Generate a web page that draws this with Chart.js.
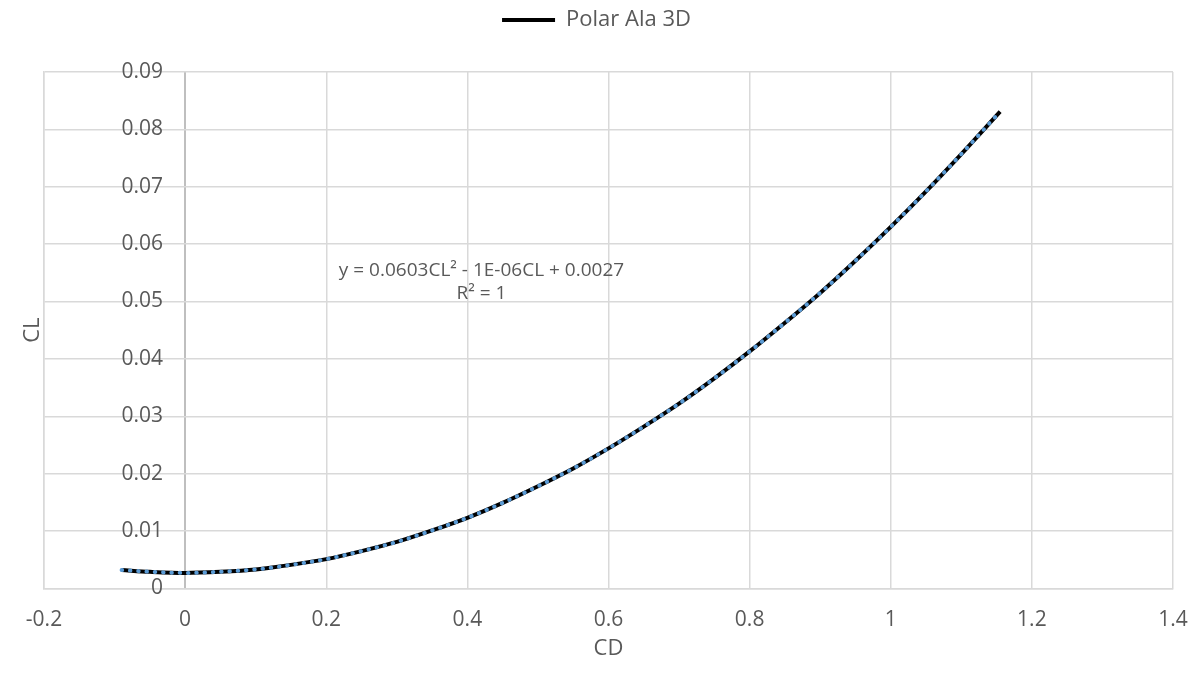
<!DOCTYPE html>
<html>
<head>
<meta charset="utf-8">
<script src="https://cdn.jsdelivr.net/npm/chart.js@4/dist/chart.umd.min.js"></script>
<style>
  html, body { margin: 0; padding: 0; background: #fff; }
  #wrap { width: 1197px; height: 685px; position: relative; }
</style>
</head>
<body>
<div id="wrap"><canvas id="chart"></canvas></div>
<script>
// valores (CD en x, CL en y)
const cdValues = [-0.09, -0.05, 0, 0.05, 0.1, 0.15, 0.2, 0.25, 0.3, 0.35, 0.4, 0.45, 0.5, 0.55,
  0.6, 0.65, 0.7, 0.75, 0.8, 0.85, 0.9, 0.95, 1.0, 1.05, 1.1, 1.155];
const clValues = [0.0032, 0.0029, 0.0027, 0.0029, 0.0033, 0.0041, 0.0051, 0.0065, 0.0081, 0.0101,
  0.0123, 0.0149, 0.0178, 0.0209, 0.0244, 0.0282, 0.0322, 0.0366, 0.0413, 0.0463, 0.0515,
  0.0571, 0.0630, 0.0692, 0.0757, 0.0831];
const seriesName = 'Polar Ala 3D';
const xTitle = 'CD';
const yTitle = 'CL';
const eqLines = ['y = 0.0603CL² - 1E-06CL + 0.0027', 'R² = 1'];
const eqAt = { x: 0.42, y: 0.0554 };

const FONT = '"Open Sans", Lato, sans-serif';
const TXT = '#595959';

const points = cdValues.map((x, i) => ({ x: x, y: clValues[i] }));

// deja hueco entre la leyenda y el area del grafico
const legendGap = {
  id: 'legendGap',
  beforeInit(chart) {
    const fit = chart.legend.fit;
    chart.legend.fit = function () {
      fit.bind(chart.legend)();
      this.height += 31;
    };
  }
};

// etiquetas del eje Y dibujadas sobre x = 0 (como en Excel) + ecuacion
const yLabelsAtZero = {
  id: 'yLabelsAtZero',
  afterDraw(chart) {
    const { ctx, scales } = chart;
    const x0 = scales.x.getPixelForValue(0);
    ctx.save();
    ctx.font = '21px ' + FONT;
    ctx.fillStyle = TXT;
    ctx.textAlign = 'right';
    ctx.textBaseline = 'middle';
    scales.y.ticks.forEach(t => {
      const lbl = String(Number(t.value.toFixed(2)));
      ctx.fillText(lbl, x0 - 22, scales.y.getPixelForValue(t.value));
    });
    // ecuacion de la linea de tendencia
    const ex = scales.x.getPixelForValue(eqAt.x);
    const ey = scales.y.getPixelForValue(eqAt.y);
    ctx.font = '19px ' + FONT;
    ctx.textAlign = 'center';
    ctx.fillText(eqLines[0], ex, ey);
    ctx.fillText(eqLines[1], ex, ey + 23);
    ctx.restore();
  }
};

new Chart(document.getElementById('chart'), {
  type: 'scatter',
  data: {
    datasets: [
      {
        label: seriesName,
        data: points,
        showLine: true,
        borderColor: '#000000',
        backgroundColor: '#000000',
        borderWidth: 4,
        pointRadius: 0,
        cubicInterpolationMode: 'monotone',
        order: 2
      },
      {
        label: 'trend',
        data: points,
        showLine: true,
        borderColor: '#5B9BD5',
        borderWidth: 4,
        borderDash: [0.5, 7.8],
        borderCapStyle: 'round',
        pointRadius: 0,
        cubicInterpolationMode: 'monotone',
        order: 1
      }
    ]
  },
  options: {
    responsive: true,
    maintainAspectRatio: false,
    animation: false,
    layout: { padding: { left: 20, right: 24, top: 0, bottom: 19 } },
    plugins: {
      tooltip: { enabled: false },
      legend: {
        position: 'top',
        labels: {
          boxWidth: 53,
          boxHeight: 4,
          color: TXT,
          font: { family: FONT, size: 22 },
          padding: 9,
          generateLabels: chart => [{
            text: seriesName, fillStyle: '#000000', strokeStyle: '#000000',
            lineWidth: 0, datasetIndex: 0, fontColor: TXT
          }]
        }
      }
    },
    scales: {
      x: {
        type: 'linear',
        min: -0.2,
        max: 1.4,
        ticks: {
          stepSize: 0.2, color: TXT, font: { family: FONT, size: 21 }, padding: 2,
          callback: v => String(Number(v.toFixed(1)))
        },
        grid: {
          color: c => (Math.abs(c.tick.value) < 1e-9 ? '#BFBFBF' : '#D9D9D9'),
          lineWidth: c => (Math.abs(c.tick.value) < 1e-9 ? 2 : 1.5),
          drawTicks: true,
          tickLength: 17,
          tickColor: 'rgba(0,0,0,0)'
        },
        border: { color: '#D9D9D9', width: 1.5 },
        title: { display: true, text: xTitle, color: TXT, font: { family: FONT, size: 22 }, padding: { top: 1 } }
      },
      y: {
        min: 0,
        max: 0.09,
        ticks: { stepSize: 0.01, display: false },
        grid: { color: '#D9D9D9', lineWidth: 1.5, drawTicks: false },
        border: { color: '#D9D9D9', width: 1.5 },
        title: {
          display: true, text: yTitle, color: TXT,
          font: { family: FONT, size: 22, lineHeight: 1 }, padding: { top: 2, bottom: 0 }
        }
      }
    }
  },
  plugins: [legendGap, yLabelsAtZero]
});
</script>
</body>
</html>
